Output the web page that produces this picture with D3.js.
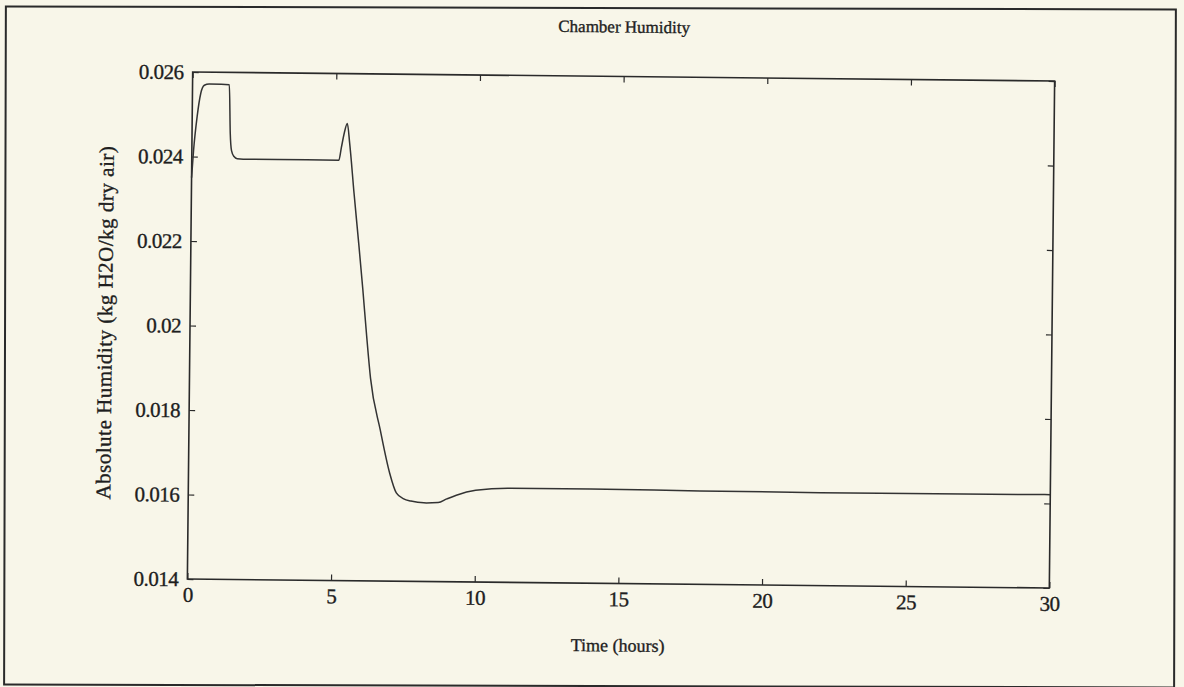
<!DOCTYPE html>
<html>
<head>
<meta charset="utf-8">
<script src="https://cdn.jsdelivr.net/npm/d3@7"></script>
<style>
  body { margin: 0; background: #f8f6e9; }
  svg { display: block; }
  text { font-family: "Liberation Serif", "Times New Roman", serif; fill: #1e1e1e; stroke: #1e1e1e; stroke-width: 0.35px; }
</style>
</head>
<body>
<div id="chart"></div>
<script>
// Chamber humidity vs time
var timeHours = [0, 0.06, 0.17, 0.29, 0.41, 0.58, 1.0, 1.28, 1.33, 1.38, 1.47, 1.58, 2.0, 3.0, 4.0, 5.12,
    5.2, 5.3, 5.4, 5.49, 5.66, 5.84, 6.0, 6.15, 6.3, 6.66, 7.0, 7.24, 7.5, 7.75, 8.2, 8.7, 9.0, 9.33,
    10.0, 11.2, 14, 17.8, 22, 26, 30];
var humidity = [0.0235, 0.02415, 0.02494, 0.0255, 0.02569, 0.02572, 0.02572, 0.02571, 0.02456, 0.02415, 0.02401, 0.02396, 0.02395, 0.02395, 0.02395, 0.02395,
    0.02424, 0.02460, 0.02482, 0.02435, 0.02317, 0.02199, 0.0209, 0.0198, 0.0188, 0.01757, 0.01656, 0.01609, 0.01595, 0.0159, 0.01586, 0.01587, 0.01596, 0.01605,
    0.01617, 0.01623, 0.01623, 0.01621, 0.0162, 0.0162, 0.01621];
var xTicks = [0, 5, 10, 15, 20, 25, 30];
var yTicks = [0.014, 0.016, 0.018, 0.02, 0.022, 0.024, 0.026];
var yTickLabels = ["0.014", "0.016", "0.018", "0.02", "0.022", "0.024", "0.026"];

var W = 1184, H = 687;
var margin = { top: 76.5, right: 132, bottom: 103.5, left: 190 },
    width = W - margin.left - margin.right,
    height = H - margin.top - margin.bottom;

var root = d3.select("#chart")
    .append("svg")
    .attr("width", W)
    .attr("height", H);

// outer page frame
root.append("rect")
    .attr("x", 5).attr("y", 8)
    .attr("width", 1170).attr("height", 678)
    .attr("transform", "rotate(0.15, 590, 343)")
    .attr("fill", "none")
    .attr("stroke", "#2a2a2a")
    .attr("stroke-width", 2);

// the scan is a little tilted
var page = root.append("g")
    .attr("transform", "rotate(0.6, 620, 330)");

var svg = page.append("g")
    .attr("transform", "translate(" + margin.left + "," + margin.top + ")");

var x = d3.scaleLinear()
    .domain([0, 30])
    .range([0, width]);

var y = d3.scaleLinear()
    .domain([0.014, 0.026])
    .range([height, 0]);

// box
svg.append("rect")
    .attr("width", width)
    .attr("height", height)
    .attr("fill", "none")
    .attr("stroke", "#2a2a2a")
    .attr("stroke-width", 1.6);

//Adding X axis (ticks point inward, also on top)
var xAxis = svg.append("g")
    .attr("transform", "translate(0," + height + ")")
    .call(d3.axisBottom(x).tickValues(xTicks).tickSizeInner(-6).tickSizeOuter(0).tickPadding(7)
        .tickFormat(d3.format("d")));
svg.append("g")
    .call(d3.axisTop(x).tickValues(xTicks).tickSizeInner(-6).tickSizeOuter(0).tickFormat(""));

//Adding Y axis
var yAxis = svg.append("g")
    .call(d3.axisLeft(y).tickValues(yTicks).tickSizeInner(-6).tickSizeOuter(0).tickPadding(9)
        .tickFormat(function (d, i) { return yTickLabels[i]; }));
svg.append("g")
    .attr("transform", "translate(" + width + ",0)")
    .call(d3.axisRight(y).tickValues(yTicks).tickSizeInner(-6).tickSizeOuter(0).tickFormat(""));

svg.selectAll(".domain").remove();
svg.selectAll(".tick line").attr("stroke", "#2a2a2a").attr("stroke-width", 1.2);
svg.selectAll(".tick text")
    .style("font-family", "'Liberation Serif', serif")
    .style("font-size", "21px")
    .style("letter-spacing", "-0.5px")
    .attr("fill", "#1e1e1e");
xAxis.selectAll(".tick text").attr("dy", "0.75em");

// curve
svg.append("path")
    .datum(timeHours.map(function (t, i) { return [t, humidity[i]]; }))
    .attr("fill", "none")
    .attr("stroke", "#333")
    .attr("stroke-width", 1.5)
    .attr("d", d3.line()
        .x(function (d) { return x(d[0]); })
        .y(function (d) { return y(d[1]); })
        .curve(d3.curveMonotoneX));

svg.append('text')
    .attr('x', width / 2)
    .attr('y', -44)
    .attr('text-anchor', 'middle')
    .style('font-size', '17px')
    .text('Chamber Humidity');

svg.append('text')
    .attr('x', width / 2)
    .attr('y', height + 68)
    .attr('text-anchor', 'middle')
    .style('font-size', '18px')
    .text('Time (hours)');

svg.append('text')
    .attr('x', -height / 2 + 2)
    .attr('y', -78)
    .attr('transform', 'rotate(-90)')
    .attr('text-anchor', 'middle')
    .style('font-size', '21px')
    .style('letter-spacing', '0.5px')
    .text('Absolute Humidity (kg H2O/kg dry air)');
</script>
</body>
</html>
